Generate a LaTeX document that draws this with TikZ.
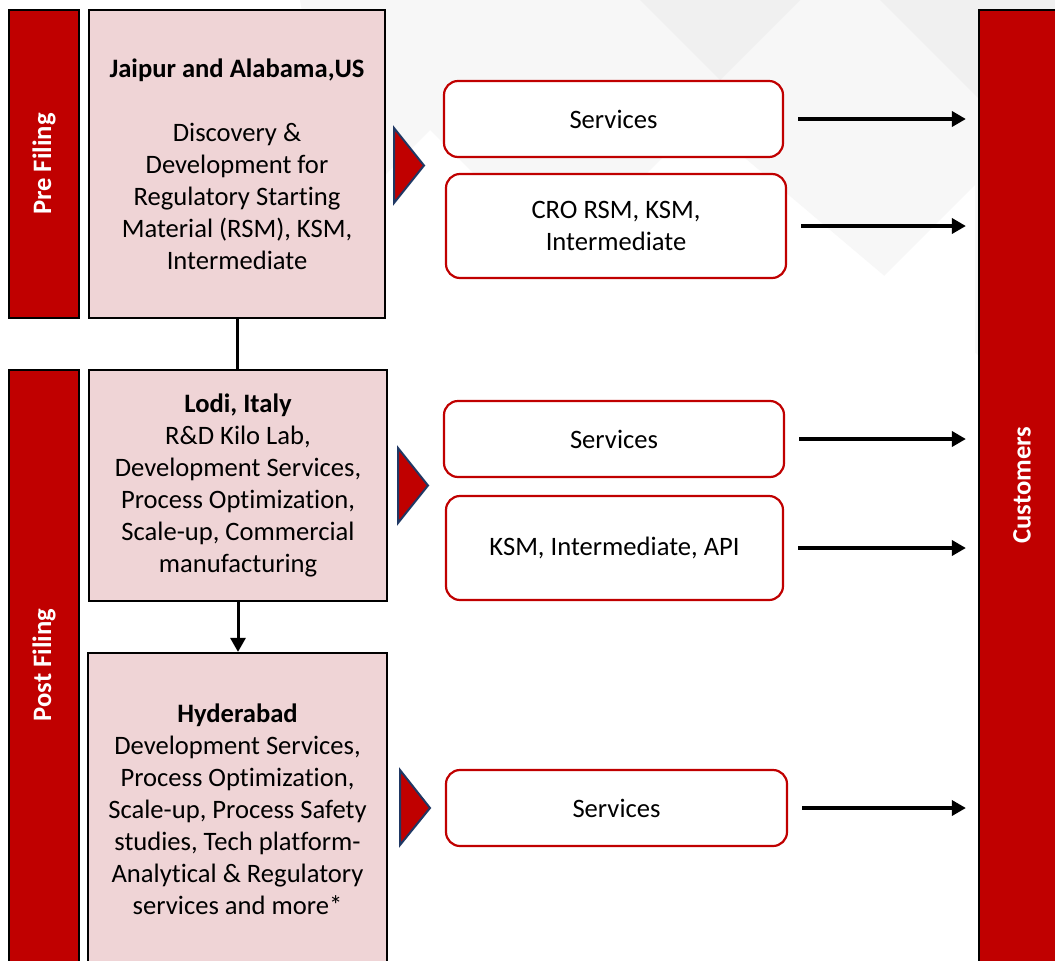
\documentclass[tikz,border=0pt]{standalone}
\usepackage{fontspec}
\setmainfont{Carlito}[Ligatures=NoCommon]
\usetikzlibrary{arrows.meta}
\definecolor{brandred}{HTML}{C00000}
\definecolor{pinkfill}{HTML}{EFD4D6}
\definecolor{navy}{HTML}{1F3864}
\definecolor{bgA}{HTML}{F7F7F7}
\definecolor{bgB}{HTML}{F0F0F0}
\tikzset{
  txt/.style={font=\fontsize{26.6}{32}\selectfont, align=center, text=black},
  phasebar/.style={draw=black, line width=2.2pt, fill=brandred, inner sep=0pt},
  sitebox/.style={draw=black, line width=2.2pt, fill=pinkfill, inner sep=0pt, txt},
  svcbox/.style={draw=brandred, line width=2.2pt, fill=white, rounded corners=14pt, inner sep=0pt, txt},
  bartext/.style={font=\fontsize{26.6}{32}\selectfont\bfseries, text=white, rotate=90},
  flow/.style={line width=3.5pt, -{Triangle[length=14pt,width=15pt]}, shorten <=14pt, shorten >=12pt},
  link/.style={line width=3pt},
  pointer/.style={draw=navy, line width=2pt, fill=brandred, line join=miter}
}
\begin{document}
\begin{tikzpicture}[x=1pt,y=-1pt]
\useasboundingbox (0,0) rectangle (1055,961);
\clip (0,0) rectangle (1055,961);
% background
\fill[white] (0,0) rectangle (1055,961);
\fill[bgA] (300,0) -- (1055,0) -- (1055,420) -- (700,120) -- (560,260) -- (430,130) -- (340,220) -- cycle;
\fill[bgB] (640,0) -- (720,80) -- (800,0) -- cycle;
\fill[bgB] (880,0) -- (990,110) -- (1055,45) -- (1055,0) -- cycle;
\fill[white] (700,120) -- (870,290) -- (975,185) -- (975,400) -- cycle;

% phase bars
\node[phasebar, minimum width=70pt, minimum height=308pt] (pre) at (44,164) {};
\node[bartext] (pretxt) at (pre.center) {Pre Filing};
\node[phasebar, minimum width=70pt, minimum height=620pt] (post) at (44,680) {};
\node[bartext] (posttxt) at (44,665) {Post Filing};
\node[phasebar, minimum width=90pt, minimum height=970pt] (cust) at (1024,495) {};
\node[bartext] (custtxt) at (1022,485) {Customers};

% site boxes
\node[sitebox, minimum width=296pt, minimum height=308pt] (b1) at (237,164)
  {\textbf{Jaipur and Alabama,US}\\[32pt]Discovery \&\\Development for\\Regulatory Starting\\Material (RSM), KSM,\\Intermediate};
\node[sitebox, minimum width=298pt, minimum height=231pt] (b2) at (238,485.5)
  {\textbf{Lodi, Italy}\\R\&D Kilo Lab,\\Development Services,\\Process Optimization,\\Scale-up, Commercial\\manufacturing};
\node[sitebox, minimum width=299pt, minimum height=312pt] (b3) at (237.5,809)
  {\textbf{Hyderabad}\\Development Services,\\Process Optimization,\\Scale-up, Process Safety\\studies, Tech platform-\\Analytical \& Regulatory\\services and more*};

\draw[link] (b1.south) -- (b1.south |- b2.north);
\draw[link, -{Triangle[length=14pt,width=15pt]}] (b2.south) -- (b2.south |- b3.north);

% pointers
\draw[pointer] (394,128) -- (424,165.5) -- (394,203) -- cycle;
\draw[pointer] (398,448) -- (428,485.5) -- (398,523) -- cycle;
\draw[pointer] (400,770) -- (430,808) -- (400,845) -- cycle;

% service boxes
\node[svcbox, minimum width=339pt, minimum height=76pt] (s1) at (613.5,119) {Services};
\node[svcbox, minimum width=340pt, minimum height=104pt] (s2) at (616,226) {CRO RSM, KSM,\\Intermediate};
\node[svcbox, minimum width=340pt, minimum height=76pt] (s3) at (614,439) {Services};
\node[svcbox, minimum width=337pt, minimum height=104pt] (s4) at (614.5,548) {KSM, Intermediate, API};
\node[svcbox, minimum width=341pt, minimum height=76pt] (s5) at (616.5,808) {Services};

% flows to customers
\draw[flow] (s1.east) -- (s1.east -| cust.west);
\draw[flow] (s2.east) -- (s2.east -| cust.west);
\draw[flow] (s3.east) -- (s3.east -| cust.west);
\draw[flow] (s4.east) -- (s4.east -| cust.west);
\draw[flow] (s5.east) -- (s5.east -| cust.west);
\end{tikzpicture}
\end{document}
